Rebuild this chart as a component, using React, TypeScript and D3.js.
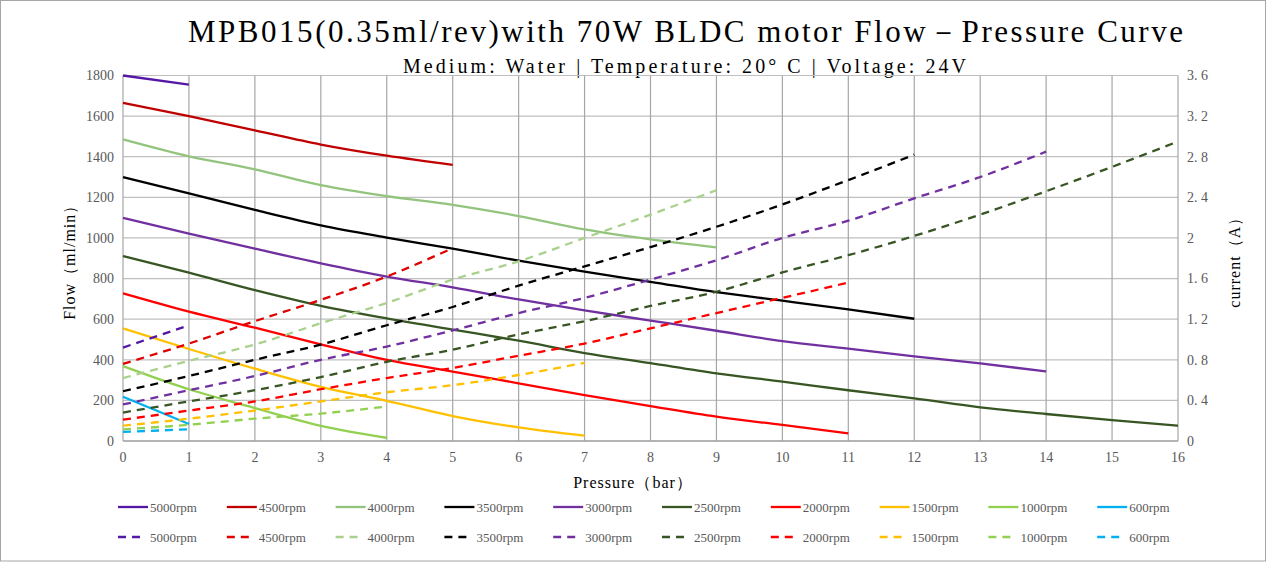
import { useMemo } from 'react'
import * as d3 from 'd3'

// rpm labels, solid = flow (ml/min), dashed = current (A); index = pressure (bar)
const SPEEDS = ['5000rpm', '4500rpm', '4000rpm', '3500rpm', '3000rpm', '2500rpm', '2000rpm', '1500rpm', '1000rpm', '600rpm']

const FLOW_COLORS = ['#5518a6', '#c00000', '#92c47d', '#000000', '#7030a0', '#375623', '#ff0000', '#ffc000', '#92d050', '#00b0f0']
const CURRENT_COLORS = ['#5518a6', '#e00000', '#a9d18e', '#000000', '#7030a0', '#375623', '#ff0000', '#ffc000', '#92d050', '#00b0f0']

const flow5000 = [1800, 1755]
const flow4500 = [1665, 1600, 1530, 1460, 1405, 1360]
const flow4000 = [1485, 1402, 1338, 1260, 1206, 1163, 1108, 1042, 993, 954]
const flow3500 = [1300, 1219, 1138, 1062, 1002, 947, 888, 834, 784, 733, 691, 648, 602]
const flow3000 = [1099, 1021, 947, 875, 810, 757, 697, 643, 593, 543, 492, 455, 417, 382, 343]
const flow2500 = [911, 829, 743, 666, 604, 549, 494, 433, 383, 333, 292, 250, 210, 166, 133, 103, 75]
const flow2000 = [727, 637, 558, 476, 399, 342, 284, 226, 172, 120, 79, 38]
const flow1500 = [555, 453, 356, 267, 198, 123, 67, 26]
const flow1000 = [369, 255, 162, 75, 16]
const flow600 = [218, 84]

const cur5000 = [0.92, 1.14]
const cur4500 = [0.76, 0.96, 1.18, 1.39, 1.62, 1.9]
const cur4000 = [0.62, 0.79, 0.95, 1.16, 1.36, 1.59, 1.77, 2.0, 2.23, 2.47]
const cur3500 = [0.49, 0.64, 0.8, 0.95, 1.14, 1.32, 1.53, 1.72, 1.91, 2.11, 2.33, 2.57, 2.82]
const cur3000 = [0.36, 0.5, 0.64, 0.8, 0.93, 1.09, 1.26, 1.41, 1.59, 1.78, 2.0, 2.17, 2.39, 2.6, 2.85]
const cur2500 = [0.28, 0.39, 0.5, 0.63, 0.78, 0.9, 1.05, 1.18, 1.33, 1.47, 1.66, 1.83, 2.02, 2.23, 2.46, 2.7, 2.95]
const cur2000 = [0.21, 0.3, 0.39, 0.51, 0.62, 0.72, 0.84, 0.96, 1.11, 1.26, 1.41, 1.56]
const cur1500 = [0.15, 0.22, 0.3, 0.39, 0.48, 0.55, 0.65, 0.77]
const cur1000 = [0.115, 0.16, 0.22, 0.27, 0.34]
const cur600 = [0.09, 0.115]

const FLOWS = [flow5000, flow4500, flow4000, flow3500, flow3000, flow2500, flow2000, flow1500, flow1000, flow600]
const CURRENTS = [cur5000, cur4500, cur4000, cur3500, cur3000, cur2500, cur2000, cur1500, cur1000, cur600]

const FLOW_TICKS = [0, 200, 400, 600, 800, 1000, 1200, 1400, 1600, 1800]
const CURRENT_TICKS = [0, 0.4, 0.8, 1.2, 1.6, 2, 2.4, 2.8, 3.2, 3.6]
const PRESSURE_TICKS = d3.range(0, 17)

const TITLE = 'MPB015(0.35ml/rev)with 70W BLDC motor Flow－Pressure Curve'
const SUBTITLE = 'Medium: Water | Temperature: 20° C | Voltage: 24V'

const W = 1267
const H = 562
const plot = { left: 123, right: 1178, top: 75.5, bottom: 441 }

const SERIF = '"Liberation Serif", "Times New Roman", serif'

export default function App() {
  const x = useMemo(() => d3.scaleLinear().domain([0, 16]).range([plot.left, plot.right]), [])
  const yFlow = useMemo(() => d3.scaleLinear().domain([0, 1800]).range([plot.bottom, plot.top]), [])
  const yCur = useMemo(() => d3.scaleLinear().domain([0, 3.6]).range([plot.bottom, plot.top]), [])

  const flowLine = d3
    .line<number>()
    .x((_, i) => x(i))
    .y((d) => yFlow(d))
    .curve(d3.curveMonotoneX)
  const curLine = d3
    .line<number>()
    .x((_, i) => x(i))
    .y((d) => yCur(d))
    .curve(d3.curveMonotoneX)

  const legendX = (i: number) => 118 + i * 108.8

  return (
    <svg
      width={W}
      height={H}
      viewBox={`0 0 ${W} ${H}`}
      style={{ position: 'absolute', left: 0, top: 0, background: '#fff' }}
    >
      <rect x={0.5} y={0.5} width={W - 2} height={H - 1.5} fill="#fff" stroke="#a6a6a6" />

      {/* Title */}
      <text
        x={188}
        y={42}
        fontSize={31}
        fontFamily={SERIF}
        fill="#000"
        textLength={995}
        lengthAdjust="spacing"
      >
        {TITLE}
      </text>
      <text
        x={403}
        y={73}
        fontSize={20}
        fontFamily={SERIF}
        fill="#000"
        textLength={563}
        lengthAdjust="spacing"
      >
        {SUBTITLE}
      </text>

      {/* Grid */}
      {FLOW_TICKS.map((t) => (
        <line key={`h${t}`} x1={plot.left} x2={plot.right} y1={yFlow(t)} y2={yFlow(t)} stroke="#bfbfbf" strokeWidth={1.2} />
      ))}
      {PRESSURE_TICKS.map((t) => (
        <line key={`v${t}`} x1={x(t)} x2={x(t)} y1={plot.top} y2={plot.bottom} stroke="#a6a6a6" strokeWidth={1.2} />
      ))}
      <line x1={plot.left} x2={plot.right} y1={plot.bottom} y2={plot.bottom} stroke="#a6a6a6" strokeWidth={1.5} />

      {/* Flow curves */}
      {FLOWS.map((s, i) => (
        <path key={`f${i}`} d={flowLine(s) ?? ''} fill="none" stroke={FLOW_COLORS[i]} strokeWidth={2.3} />
      ))}
      {/* Current curves */}
      {CURRENTS.map((s, i) => (
        <path
          key={`c${i}`}
          d={curLine(s) ?? ''}
          fill="none"
          stroke={CURRENT_COLORS[i]}
          strokeWidth={2.3}
          strokeDasharray="8,6"
        />
      ))}

      {/* Left axis ticks */}
      {FLOW_TICKS.map((t) => (
        <text key={`lt${t}`} x={114} y={yFlow(t)} dy="0.35em" textAnchor="end" fontSize={14} fontFamily={SERIF} fill="#595959">
          {t}
        </text>
      ))}
      {/* Right axis ticks */}
      {CURRENT_TICKS.map((t) => (
        <text key={`rt${t}`} x={1187} y={yCur(t)} dy="0.35em" fontSize={14} fontFamily={SERIF} fill="#595959">
          {String(t).replace('.', '. ')}
        </text>
      ))}
      {/* Bottom ticks */}
      {PRESSURE_TICKS.map((t) => (
        <text key={`bt${t}`} x={x(t)} y={462} textAnchor="middle" fontSize={14} fontFamily={SERIF} fill="#595959">
          {t}
        </text>
      ))}

      {/* Axis titles */}
      <text
        transform={`translate(75,${(plot.top + plot.bottom) / 2}) rotate(-90)`}
        textAnchor="middle"
        fontSize={16}
        letterSpacing={1}
        fontFamily={SERIF}
        fill="#000"
      >
        Flow（ml/min）
      </text>
      <text
        transform={`translate(1240,${(plot.top + plot.bottom) / 2}) rotate(-90)`}
        textAnchor="middle"
        fontSize={16}
        letterSpacing={1}
        fontFamily={SERIF}
        fill="#000"
      >
        current（A）
      </text>
      <text x={633} y={488} textAnchor="middle" fontSize={16} letterSpacing={1} fontFamily={SERIF} fill="#000">
        Pressure（bar）
      </text>

      {/* Legend */}
      {SPEEDS.map((s, i) => (
        <g key={`lg${i}`}>
          <line x1={legendX(i)} x2={legendX(i) + 30} y1={507} y2={507} stroke={FLOW_COLORS[i]} strokeWidth={2.3} />
          <text x={legendX(i) + 32} y={507} dy="0.35em" fontSize={13} fontFamily={SERIF} fill="#595959">
            {s}
          </text>
          <line
            x1={legendX(i)}
            x2={legendX(i) + 22}
            y1={537}
            y2={537}
            stroke={CURRENT_COLORS[i]}
            strokeWidth={2.3}
            strokeDasharray="8,6"
          />
          <text x={legendX(i) + 32} y={537} dy="0.35em" fontSize={13} fontFamily={SERIF} fill="#595959">
            {s}
          </text>
        </g>
      ))}
    </svg>
  )
}
